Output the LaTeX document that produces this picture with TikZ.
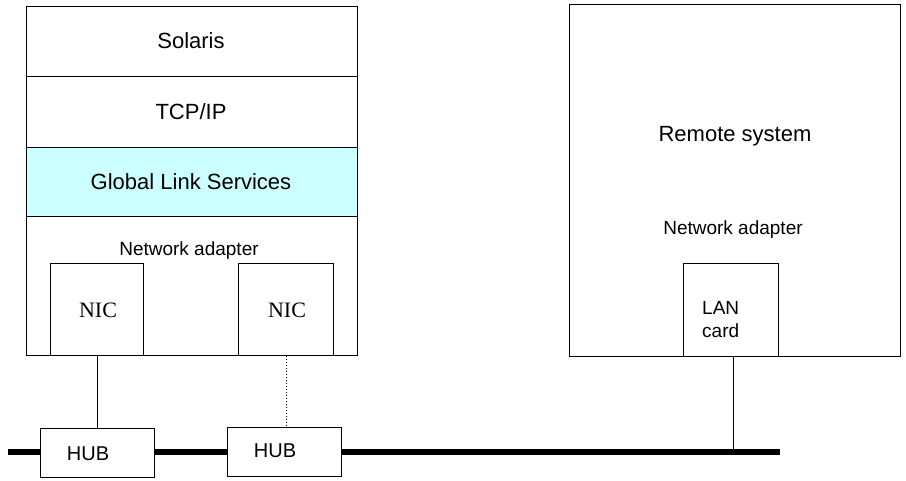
\documentclass[tikz,border=0pt]{standalone}
\usepackage{fontspec}
\setmainfont{Liberation Sans}
\newfontfamily\nicfont{Liberation Serif}
\definecolor{glscyan}{HTML}{CCFFFF}
\begin{document}
\begin{tikzpicture}[x=1pt,y=-1pt,
  box/.style={draw=black,line width=1pt,fill=white,inner sep=0pt,anchor=north west},
  lbl/.style={inner sep=0pt,font=\fontsize{22}{26}\selectfont},
  sml/.style={inner sep=0pt,font=\fontsize{19}{23}\selectfont},
  link/.style={draw=black,line width=1pt},
  bus/.style={draw=black,line width=6pt}]
\useasboundingbox[fill=white] (0,0) rectangle (906,481);
% bus
\coordinate (busL) at (8,452);
\coordinate (busR) at (780,452);
\draw[bus] (busL) -- (busR);
% left stack
\node[box,minimum width=331pt,minimum height=70pt] (solaris) at (26,6) {};
\node[box,minimum width=331pt,minimum height=71pt] (tcp) at (26,76) {};
\node[box,fill=glscyan,minimum width=331pt,minimum height=69pt] (gls) at (26,147) {};
\node[box,minimum width=331pt,minimum height=139pt] (adapter) at (26,216) {};
\node[lbl] (tsol) at (191,41) {Solaris};
\node[lbl] (ttcp) at (191,112) {TCP/IP};
\node[lbl] (tgls) at (191,182) {Global Link Services};
\node[sml] (tad) at (189,251) {Network adapter};
\node[box,minimum width=93pt,minimum height=92pt] (nic1) at (50,263) {};
\node[box,minimum width=95pt,minimum height=92pt] (nic2) at (238,263) {};
\node[inner sep=0pt,font=\nicfont\fontsize{22}{26}\selectfont] (tnic1) at (98,310) {NIC};
\node[inner sep=0pt,font=\nicfont\fontsize{22}{26}\selectfont] (tnic2) at (287,310) {NIC};
% hubs
\node[box,minimum width=114pt,minimum height=49pt] (hub1) at (40,428) {};
\node[box,minimum width=114pt,minimum height=49pt] (hub2) at (227,427) {};
\node[inner sep=0pt,font=\fontsize{20}{24}\selectfont] (thub1) at (88,454) {HUB};
\node[inner sep=0pt,font=\fontsize{20}{24}\selectfont] (thub2) at (275,451) {HUB};
\draw[link] (nic1.south) -- (nic1.south |- hub1.north);
\draw[link,dotted] ([xshift=0.5pt]nic2.south) -- ([xshift=0.5pt]nic2.south |- hub2.north);
% remote system
\node[box,minimum width=331pt,minimum height=352pt] (remote) at (569,4) {};
\node[lbl] (trem) at (735,136) {Remote system};
\node[sml] (trad) at (733,230) {Network adapter};
\node[box,minimum width=95pt,minimum height=93pt] (lan) at (683,263) {};
\node[inner sep=0pt,anchor=north west,align=left,font=\fontsize{19}{23}\selectfont] (tlan) at (702,301) {LAN\\card};
\draw[link] ([xshift=2pt]lan.south) -- ([xshift=2pt]lan.south |- busR);
\end{tikzpicture}
\end{document}
